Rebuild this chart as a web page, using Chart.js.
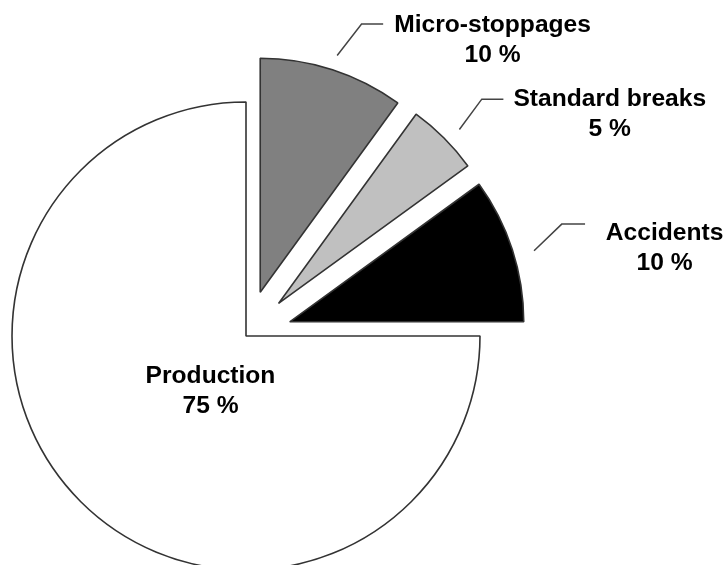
<!DOCTYPE html>
<html><head><meta charset="utf-8">
<script src="https://cdn.jsdelivr.net/npm/chart.js@4/dist/chart.umd.min.js"></script>
<style>html,body{margin:0;padding:0;background:#fff;overflow:hidden}canvas{display:block}</style>
</head><body>
<canvas id="c" width="725" height="565"></canvas>
<script>
// ---- data ----
const categories = ['Micro-stoppages', 'Standard breaks', 'Accidents', 'Production'];
const shares = [10, 5, 10, 75];
const shareLabels = shares.map(v => v + ' %');

// ---- styles ----
const sliceColors = ['#808080', '#c0c0c0', '#000000', '#ffffff'];
const explodePx = [46, 46, 46, 0];
const labelLayout = [
  {leader: true, gap: 15, tilt: 0,   dx: 24.4, dy: -31.5, len: 21.6, tx: 109.4, ty: 8.5},
  {leader: true, gap: 17, tilt: 1.1, dx: 22.4, dy: -30.3, len: 21.6, tx: 106.4, ty: 7},
  {leader: true, gap: 20.4, tilt: 1.8, dx: 27.7, dy: -26.7, len: 23.3, tx: 79.5, ty: 15.7},
  {leader: false, tx: -35.5, ty: 47.3}
];

// Explode slices by pure translation (same radius, same angles)
const Arc = Chart.ArcElement || (Chart.elements && Chart.elements.ArcElement);
const baseDraw = Arc.prototype.draw;
Arc.prototype.draw = function (ctx, area) {
  const shift = this.options.offset || 0;
  if (!shift) return baseDraw.call(this, ctx, area);
  const mid = (this.startAngle + this.endAngle) / 2;
  const proxy = Object.create(this);
  proxy.options = Object.assign({}, this.options, {offset: 0});
  ctx.save();
  ctx.translate(Math.cos(mid) * shift, Math.sin(mid) * shift);
  baseDraw.call(proxy, ctx, area);
  ctx.restore();
};

const labelPlugin = {
  id: 'sliceLabels',
  afterDatasetsDraw(chart) {
    const ctx = chart.ctx;
    const meta = chart.getDatasetMeta(0);
    ctx.save();
    ctx.font = 'bold 24.6px "Liberation Sans", Arial, sans-serif';
    ctx.fillStyle = '#000';
    ctx.textAlign = 'center';
    ctx.textBaseline = 'alphabetic';
    ctx.strokeStyle = '#444';
    ctx.lineWidth = 1.5;
    meta.data.forEach((arc, i) => {
      const L = labelLayout[i];
      const shift = arc.options.offset || 0;
      const mid = (arc.startAngle + arc.endAngle) / 2;
      const cx = arc.x + Math.cos(mid) * shift;
      const cy = arc.y + Math.sin(mid) * shift;
      let tx, ty;
      if (L.leader) {
        const a = mid + L.tilt * Math.PI / 180;
        const r = arc.outerRadius + L.gap;
        const sx = cx + Math.cos(a) * r, sy = cy + Math.sin(a) * r;
        const ex = sx + L.dx, ey = sy + L.dy;
        const hx = ex + L.len;
        ctx.beginPath();
        ctx.moveTo(sx, sy); ctx.lineTo(ex, ey); ctx.lineTo(hx, ey);
        ctx.stroke();
        tx = hx + L.tx; ty = ey + L.ty;
      } else {
        tx = cx + L.tx; ty = cy + L.ty;
      }
      ctx.fillText(categories[i], tx, ty);
      ctx.fillText(shareLabels[i], tx, ty + 30);
    });
    ctx.restore();
  }
};

new Chart(document.getElementById('c'), {
  type: 'pie',
  data: {
    labels: categories,
    datasets: [{
      data: shares,
      backgroundColor: sliceColors,
      borderColor: '#333333',
      borderWidth: 1.6,
      offset: explodePx,
      clip: false
    }]
  },
  options: {
    responsive: false,
    animation: false,
    events: [],
    devicePixelRatio: 1,
    radius: 234,
    layout: {padding: {left: 0, right: 233, top: 107, bottom: 0}},
    plugins: {legend: {display: false}, tooltip: {enabled: false}}
  },
  plugins: [labelPlugin]
});
</script>
</body></html>
